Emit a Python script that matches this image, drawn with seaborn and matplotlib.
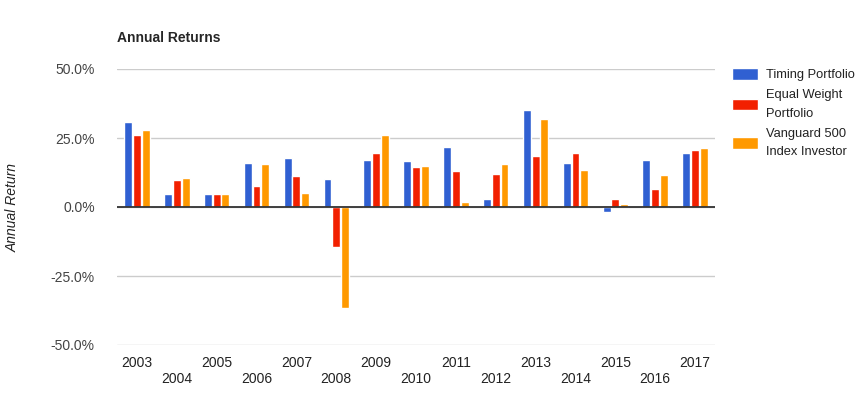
import matplotlib
matplotlib.use("Agg")
import matplotlib.pyplot as plt
import matplotlib.ticker as mticker
import pandas as pd
import seaborn as sns

years = [str(y) for y in range(2003, 2018)]
timing = [30.9, 4.7, 4.7, 15.8, 17.6, 10.0, 17.2, 16.5, 21.9, 2.9, 35.2, 16.1, -1.7, 16.9, 19.7]
equal_weight = [26.2, 9.7, 4.7, 7.5, 11.1, -14.6, 19.4, 14.4, 12.9, 11.8, 18.3, 19.7, 2.9, 6.5, 20.8]
vanguard = [28.0, 10.4, 4.7, 15.4, 5.0, -36.7, 26.2, 14.7, 1.8, 15.4, 31.9, 13.3, 1.1, 11.5, 21.5]
series = ["Timing Portfolio", "Equal Weight Portfolio", "Vanguard 500 Index Investor"]
legend_labels = ["Timing Portfolio", "Equal Weight\nPortfolio", "Vanguard 500\nIndex Investor"]
colors = ["#3060D2", "#F22000", "#FF9900"]

df = pd.DataFrame({
    "year": years * 3,
    "ret": timing + equal_weight + vanguard,
    "series": [s for s in series for _ in years],
})

sns.set_style("white")
plt.rcParams["font.family"] = ["Liberation Sans", "DejaVu Sans"]

fig = plt.figure(figsize=(8.66, 3.94), dpi=100)
ax = fig.add_axes([117 / 866, 1 - 345 / 394, 598 / 866, 276 / 394])

sns.barplot(data=df, x="year", y="ret", hue="series", palette=colors,
            width=0.66, gap=0.1, saturation=1, ax=ax, legend=True)

ax.set_ylim(-50, 50)
ax.set_xlim(-0.5, len(years) - 0.5)
ax.set_yticks([-50, -25, 0, 25, 50])
ax.yaxis.set_major_formatter(mticker.FuncFormatter(lambda v, p: f"{v:.1f}%"))
ax.grid(axis="y", color="#cccccc", linewidth=1)
ax.set_axisbelow(True)
ax.axhline(0, color="#333333", linewidth=1.3, zorder=5)
for s in ax.spines.values():
    s.set_visible(False)

ax.set_xticks(range(len(years)))
ax.set_xticklabels([y if i % 2 == 0 else "\n" + y for i, y in enumerate(years)])
ax.tick_params(axis="x", length=0, pad=8, labelsize=10, labelcolor="#222222")
ax.tick_params(axis="y", length=0, pad=16, labelsize=10, labelcolor="#444444")
ax.set_xlabel("")
ax.set_ylabel("Annual Return", fontstyle="italic", fontsize=10, color="#222222")
ax.yaxis.set_label_coords((20 - 117) / 598, 0.5)

fig.text(117 / 866, 1 - 38 / 394, "Annual Returns", fontsize=10, fontweight="bold", va="center")

handles, _ = ax.get_legend_handles_labels()
ax.get_legend().remove()
leg = fig.legend(handles, legend_labels, loc="upper left", bbox_to_anchor=(727 / 866, 1 - 63 / 394),
                 frameon=False, fontsize=9.3, handlelength=2.0, handleheight=1.0,
                 handletextpad=0.6, labelspacing=0.6, borderaxespad=0)
for t in leg.get_texts():
    t.set_linespacing(1.75)
    t.set_color("#222222")

fig.savefig("out.png", dpi=100)
